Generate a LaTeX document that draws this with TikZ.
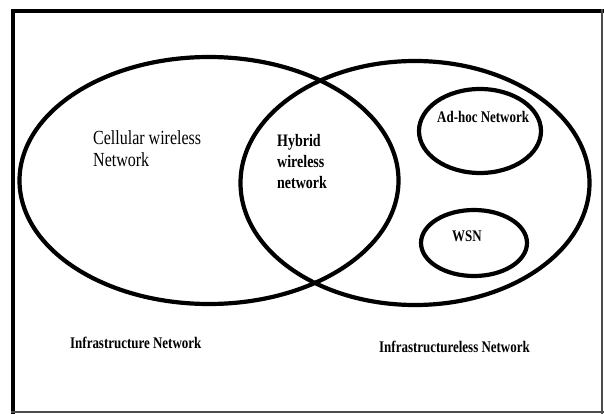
\documentclass[tikz,border=0pt]{standalone}
\usepackage{fontspec}
\setmainfont[FakeStretch=0.8]{Liberation Serif}
\begin{document}
\begin{tikzpicture}[x=1pt,y=-1pt,
  ring/.style={line width=4.2pt,black},
  lbl/.style={inner sep=0pt,anchor=base west,align=left},
  big/.style={font=\fontsize{20}{22}\selectfont},
  bmid/.style={font=\bfseries\fontsize{17.5}{21}\selectfont},
  bsmall/.style={font=\bfseries\fontsize{16.2}{19}\selectfont}]
\useasboundingbox (0,0) rectangle (604,414);
% frame
\draw[line width=4.5pt,black] (11,11.2) -- (604,11.2);
\draw[line width=3.6pt,black] (13,9) -- (13,414);
\draw[line width=2pt,black!70] (602.3,9) -- (602.3,414);
\draw[line width=2pt,black!70] (11,412.3) -- (604,412.3);
% ellipses
\draw[ring] (209,180.5) ellipse [x radius=189.5pt, y radius=123.5pt];
\draw[ring] (415,183) ellipse [x radius=174.5pt, y radius=122pt];
\draw[ring] (480,131) ellipse [x radius=61pt, y radius=42pt];
\draw[ring] (474,243) ellipse [x radius=53pt, y radius=33pt];
% labels (base anchor = baseline of last line)
\node[lbl,big] (cell) at (93,167) {Cellular wireless\\Network};
\node[lbl,bmid] (hyb) at (277,188) {Hybrid\\wireless\\network};
\node[lbl,bsmall] (adhoc) at (437,123) {Ad-hoc Network};
\node[lbl,bsmall] (wsn) at (452,241.5) {WSN};
\node[lbl,bsmall] (infra) at (70,348) {Infrastructure Network};
\node[lbl,bsmall] (infraless) at (379,352.5) {Infrastructureless Network};
\end{tikzpicture}
\end{document}
